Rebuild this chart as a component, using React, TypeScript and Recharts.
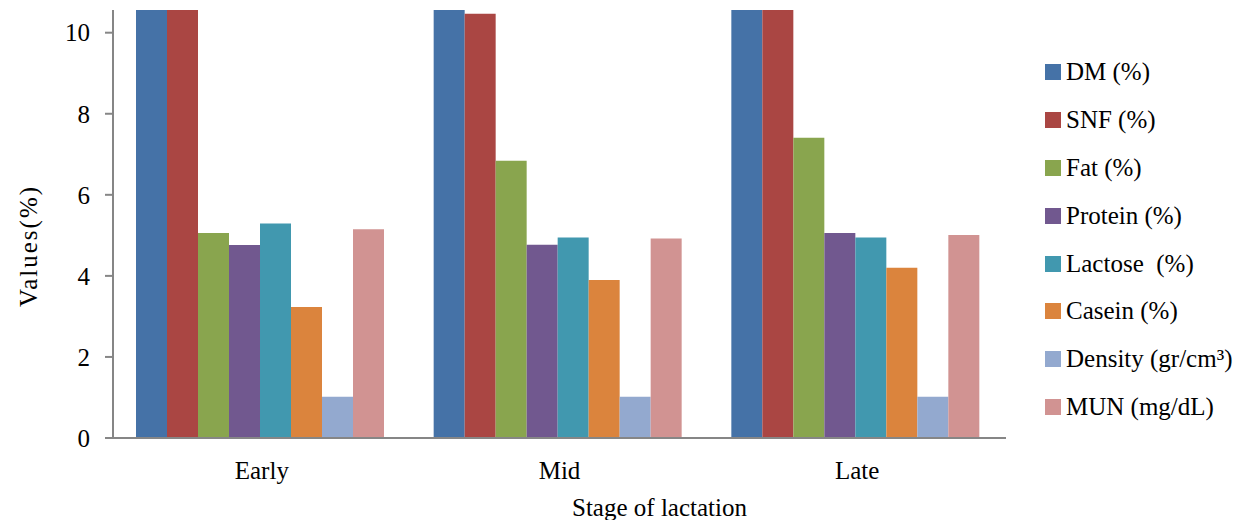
import React from 'react';
import { BarChart, Bar, XAxis, YAxis, Label } from 'recharts';

const stages = ['Early', 'Mid', 'Late'];
const dm = [15, 15, 15];
const snf = [11, 10.47, 11];
const fat = [5.06, 6.84, 7.41];
const protein = [4.76, 4.77, 5.06];
const lactose = [5.29, 4.95, 4.95];
const casein = [3.23, 3.9, 4.2];
const density = [1.02, 1.02, 1.02];
const mun = [5.15, 4.92, 5.01];
const yTicks = [0, 2, 4, 6, 8, 10];

const seriesNames = ['DM (%)', 'SNF (%)', 'Fat (%)', 'Protein (%)', 'Lactose  (%)', 'Casein (%)', 'Density (gr/cm\u00B3)', 'MUN (mg/dL)'];
const seriesKeys = ['dm', 'snf', 'fat', 'protein', 'lactose', 'casein', 'density', 'mun'];
const colors = ['#4572A7', '#AA4643', '#89A54E', '#71588F', '#4198AF', '#DB843D', '#93A9CF', '#D19392'];

const data = stages.map((s, i) => ({
  stage: s,
  dm: dm[i],
  snf: snf[i],
  fat: fat[i],
  protein: protein[i],
  lactose: lactose[i],
  casein: casein[i],
  density: density[i],
  mun: mun[i],
}));

const FONT = '"Liberation Serif", "Times New Roman", serif';
const FS = 25;

const YTick = (props: any) => {
  const { x, y, payload } = props;
  return (
    <text x={x} y={y} dy="0.35em" textAnchor="end" fill="#000" fontSize={FS} fontFamily={FONT}>
      {payload.value}
    </text>
  );
};

const XTick = (props: any) => {
  const { x, y, payload } = props;
  return (
    <text x={x} y={y} dy="0.71em" textAnchor="middle" fill="#000" fontSize={FS} fontFamily={FONT}>
      {payload.value}
    </text>
  );
};

const YLabel = (props: any) => {
  const vb = props.viewBox || {};
  const x = (vb.x ?? 0) + 28;
  const y = (vb.y ?? 0) + (vb.height ?? 0) / 2 + 22;
  return (
    <text
      x={x}
      y={y}
      transform={`rotate(-90, ${x}, ${y})`}
      textAnchor="middle"
      dominantBaseline="central"
      fill="#000"
      fontSize={FS}
      fontFamily={FONT}
      letterSpacing={2}
    >
      Values(%)
    </text>
  );
};

const LegendBox = () => (
  <div style={{ position: 'absolute', left: 1045, top: 48, fontFamily: FONT, fontSize: FS, color: '#000' }}>
    {seriesNames.map((n, i) => (
      <div key={n} style={{ display: 'flex', alignItems: 'center', height: 47.9 }}>
        <div style={{ width: 16, height: 16, background: colors[i], marginRight: 5 }} />
        <span style={{ whiteSpace: 'pre' }}>{n}</span>
      </div>
    ))}
  </div>
);

export default function App() {
  return (
    <div style={{ position: 'absolute', left: 0, top: 0, width: 1237, height: 520, background: '#fff', fontFamily: FONT }}>
      <BarChart
        width={1237}
        height={520}
        data={data}
        margin={{ top: 10, right: 231, bottom: 0, left: 0 }}
        barGap={0}
        barCategoryGap={23}
      >
        <XAxis
          dataKey="stage"
          height={82}
          tickLine={false}
          axisLine={{ stroke: '#868686', strokeWidth: 2 }}
          tickSize={0}
          tickMargin={23}
          tick={<XTick />}
        >
          <Label
            value="Stage of lactation"
            position="insideBottom"
            offset={4}
            dx={100}
            style={{ fill: '#000', fontSize: FS, fontFamily: FONT }}
          />
        </XAxis>
        <YAxis
          width={113}
          domain={[0, 10.56]}
          allowDataOverflow
          ticks={yTicks}
          tickSize={8}
          tickMargin={15}
          axisLine={{ stroke: '#868686', strokeWidth: 2 }}
          tickLine={{ stroke: '#868686', strokeWidth: 2 }}
          tick={<YTick />}
        >
          <Label content={<YLabel />} />
        </YAxis>
        {seriesKeys.map((k, i) => (
          <Bar
            key={k}
            dataKey={k}
            name={seriesNames[i]}
            fill={colors[i]}
            isAnimationActive={false}
          />
        ))}
      </BarChart>
      <LegendBox />
    </div>
  );
}
